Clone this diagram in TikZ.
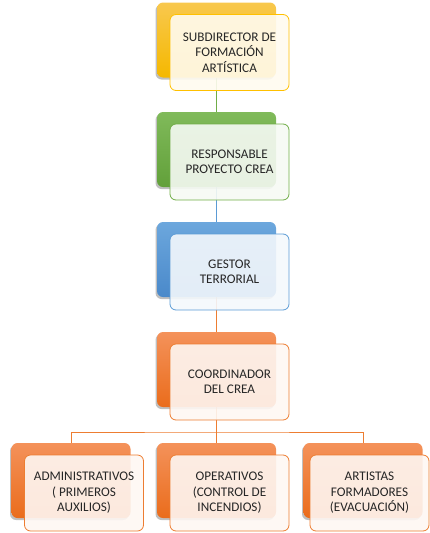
\documentclass[tikz,border=0pt]{standalone}
\usepackage{fontspec}
\setmainfont{Carlito}
\usetikzlibrary{positioning,calc,shadows,backgrounds}
\definecolor{oro}{HTML}{FFC000}
\definecolor{orotop}{HTML}{F8C84E}
\definecolor{orobot}{HTML}{F5B800}
\definecolor{verde}{HTML}{70AD47}
\definecolor{verdetop}{HTML}{80BA5A}
\definecolor{verdebot}{HTML}{62A03A}
\definecolor{azul}{HTML}{5B9BD5}
\definecolor{azultop}{HTML}{6CA7DD}
\definecolor{azulbot}{HTML}{4A89CA}
\definecolor{naranja}{HTML}{ED7D31}
\definecolor{naranjatop}{HTML}{F4925A}
\definecolor{naranjabot}{HTML}{EA6C1C}
\definecolor{texto}{HTML}{262626}

\begin{document}
\begin{tikzpicture}[x=1pt,y=-1pt,
	back/.style={rounded corners=6pt, minimum width=119pt, minimum height=75pt,
		drop shadow={opacity=.5, shadow xshift=-1.5pt, shadow yshift=-2pt}},
	front/.style={draw, rounded corners=6pt, line width=.8pt, minimum width=119pt,
		minimum height=76pt, fill opacity=.9, text opacity=1, align=center, text=texto,
		font=\fontsize{13.2}{15.5}\selectfont, inner sep=2pt, xshift=13pt, yshift=-12.5pt},
	link/.style={line width=.8pt}]
	\useasboundingbox (0,0) rectangle (430,533);
	% subdirector
	\node[back, top color=orotop, bottom color=orobot] (b1) at (216.5,40) {};
	\node[front, draw=oro, fill=oro!6] (f1) at (b1) {SUBDIRECTOR DE\\FORMACIÓN\\ARTÍSTICA};
	% responsable
	\node[back, top color=verdetop, bottom color=verdebot] (b2) at (216.5,149.5) {};
	\node[front, draw=verde, fill=verde!6] (f2) at (b2) {RESPONSABLE\\PROYECTO CREA};
	% gestor
	\node[back, top color=azultop, bottom color=azulbot] (b3) at (216.5,259.5) {};
	\node[front, draw=azul, fill=azul!7] (f3) at (b3) {GESTOR\\TERRORIAL};
	% coordinador
	\node[back, top color=naranjatop, bottom color=naranjabot] (b4) at (216.5,369.5) {};
	\node[front, draw=naranja, fill=naranja!6] (f4) at (b4) {COORDINADOR\\DEL CREA};
	% bottom row
	\node[back, top color=naranjatop, bottom color=naranjabot] (b5) at (71,480.5) {};
	\node[front, draw=naranja, fill=naranja!6] (f5) at (b5) {ADMINISTRATIVOS\\( PRIMEROS\\AUXILIOS)};
	\node[back, top color=naranjatop, bottom color=naranjabot] (b6) at (216.5,480.5) {};
	\node[front, draw=naranja, fill=naranja!6] (f6) at (b6) {OPERATIVOS\\(CONTROL DE\\INCENDIOS)};
	\node[back, top color=naranjatop, bottom color=naranjabot] (b7) at (363,480.5) {};
	\node[front, draw=naranja, fill=naranja!6, xshift=-6.5pt] (f7) at (b7) {ARTISTAS\\FORMADORES\\(EVACUACIÓN)};
	\coordinate (bus) at (216.5,432);
	% connectors
	\begin{pgfonlayer}{background}
		\draw[link, verde] (b1) -- (b2);
		\draw[link, azul] (b2) -- (b3);
		\draw[link, naranja] (b3) -- (b4);
		\draw[link, naranja] (b4) -- (b6);
		\draw[link, naranja] (b5) |- (bus) -| (b7);
	\end{pgfonlayer}
\end{tikzpicture}
\end{document}
